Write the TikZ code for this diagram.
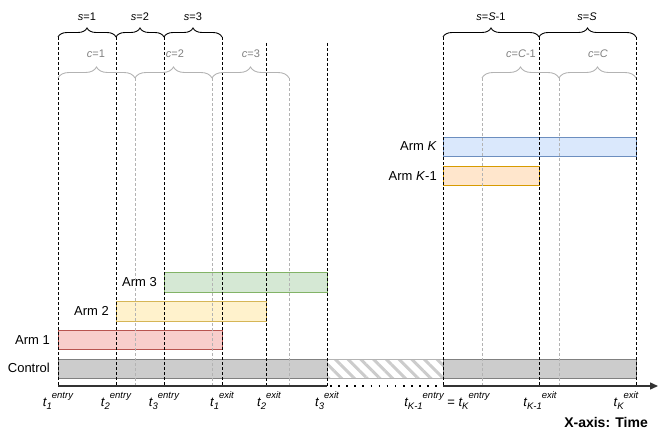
\documentclass[tikz,border=0pt]{standalone}
\usepackage{fontspec}
\setmainfont{Liberation Sans}
\usetikzlibrary{decorations.pathreplacing,patterns.meta,arrows.meta}

\definecolor{redfill}{HTML}{F8CECC}
\definecolor{redline}{HTML}{B85450}
\definecolor{yellowfill}{HTML}{FFF2CC}
\definecolor{yellowline}{HTML}{D6B656}
\definecolor{greenfill}{HTML}{D5E8D4}
\definecolor{greenline}{HTML}{82B366}
\definecolor{bluefill}{HTML}{DAE8FC}
\definecolor{blueline}{HTML}{6C8EBF}
\definecolor{orangefill}{HTML}{FFE6CC}
\definecolor{orangeline}{HTML}{D79B00}
\definecolor{ctlfill}{HTML}{CCCCCC}
\definecolor{ctlline}{HTML}{808080}
\definecolor{lightgray}{HTML}{B3B3B3}

\newcommand{\tlab}[2]{\textit{t\raisebox{-.45ex}{\fontsize{9.5}{10}\selectfont #1}\raisebox{1.1ex}{\fontsize{9.5}{10}\selectfont #2}}}

\begin{document}
\begin{tikzpicture}[x=1pt,y=-1pt,
    armlabel/.style={anchor=east,inner sep=0pt,font=\fontsize{13}{15}\selectfont},
    tlabel/.style={anchor=base,inner sep=0pt,font=\fontsize{13}{15}\selectfont},
    sbrace/.style={decorate,decoration={brace,amplitude=9pt},line width=.9pt},
    cbrace/.style={decorate,decoration={brace,amplitude=11pt},line width=.9pt,lightgray},
    slabel/.style={inner sep=0pt,font=\fontsize{11}{13}\selectfont},
    clabel/.style={inner sep=0pt,font=\fontsize{11}{13}\selectfont,gray},
    blackdash/.style={line width=.9pt,dash pattern=on 3pt off 2pt},
    graydash/.style={line width=.9pt,dash pattern=on 3pt off 2pt,lightgray}]
        \useasboundingbox (0,0) rectangle (664,444);

        %% bars
        \draw[ctlline,fill=ctlfill,line width=.9pt] (58,359) rectangle (327,378);
        \draw[lightgray,line width=.9pt,pattern={Lines[angle=-45,distance=9pt,line width=3pt]},pattern color=ctlfill] (327,359) rectangle (443,378);
        \draw[ctlline,fill=ctlfill,line width=.9pt] (443,359) rectangle (636,378);
        \draw[redline,fill=redfill,line width=.9pt] (58,330) rectangle (222,349);
        \draw[yellowline,fill=yellowfill,line width=.9pt] (116,301) rectangle (266,321);
        \draw[greenline,fill=greenfill,line width=.9pt] (164,272) rectangle (327,292);
        \draw[orangeline,fill=orangefill,line width=.9pt] (443,166) rectangle (539,185);
        \draw[blueline,fill=bluefill,line width=.9pt] (443,137) rectangle (636,156);

        %% arm names
        \node (ctl) at (50,368) [armlabel] {Control};
        \node (arm1) at (50,340) [armlabel] {Arm 1};
        \node (arm2) at (109,311) [armlabel] {Arm 2};
        \node (arm3) at (157,282) [armlabel] {Arm 3};
        \node (armKm) at (437,176) [armlabel] {Arm \textit{K}-1};
        \node (armK) at (437,146) [armlabel] {Arm \textit{K}};

        %% time lines
        \draw[graydash] (135,78) -- (135,386);
        \draw[graydash] (212,78) -- (212,386);
        \draw[graydash] (289,78) -- (289,386);
        \draw[graydash] (482,78) -- (482,386);
        \draw[graydash] (559,78) -- (559,386);
        \draw[blackdash] (58,37) -- (58,386);
        \draw[blackdash] (116,37) -- (116,386);
        \draw[blackdash] (164,37) -- (164,386);
        \draw[blackdash] (222,37) -- (222,386);
        \draw[blackdash] (266,43) -- (266,386);
        \draw[blackdash] (327,43) -- (327,386);
        \draw[blackdash] (443,37) -- (443,386);
        \draw[blackdash] (539,37) -- (539,386);
        \draw[blackdash] (636,37) -- (636,386);

        %% s braces
        \draw[sbrace] (58,37) -- (116,37);
        \draw[sbrace] (116,37) -- (164,37);
        \draw[sbrace] (164,37) -- (222,37);
        \draw[sbrace] (443,37) -- (539,37);
        \draw[sbrace] (539,37) -- (636,37);
        \node (s1) at (87,17) [slabel] {\textit{s}=1};
        \node (s2) at (140,17) [slabel] {\textit{s}=2};
        \node (s3) at (193,17) [slabel] {\textit{s}=3};
        \node (sSm) at (491,17) [slabel] {\textit{s}=\textit{S}-1};
        \node (sS) at (587,17) [slabel] {\textit{s}=\textit{S}};

        %% c braces
        \draw[cbrace] (58,78) -- (135,78);
        \draw[cbrace] (135,78) -- (212,78);
        \draw[cbrace] (212,78) -- (289,78);
        \draw[cbrace] (482,78) -- (559,78);
        \draw[cbrace] (559,78) -- (636,78);
        \node (c1) at (96,54) [clabel] {\textit{c}=1};
        \node (c2) at (175,54) [clabel] {\textit{c}=2};
        \node (c3) at (251,54) [clabel] {\textit{c}=3};
        \node (cCm) at (521,54) [clabel] {\textit{c}=\textit{C}-1};
        \node (cC) at (598,54) [clabel] {\textit{c}=\textit{C}};

        %% axis
        \draw[line width=1.4pt,black!80] (58,386) -- (327,386);
        \draw[line width=1.6pt,dash pattern=on 1.6pt off 6.5pt] (330,386) -- (443,386);
        \draw[line width=1.4pt,black!80,-{Triangle[length=8pt,width=7pt]}] (443,386) -- (658,386);

        %% t-values
        \node (t1in) at (58,406) [tlabel] {\tlab{1}{entry}};
        \node (t2in) at (116,406) [tlabel] {\tlab{2}{entry}};
        \node (t3in) at (164,406) [tlabel] {\tlab{3}{entry}};
        \node (t1out) at (222,406) [tlabel] {\tlab{1}{exit}};
        \node (t2out) at (269,406) [tlabel] {\tlab{2}{exit}};
        \node (t3out) at (327,406) [tlabel] {\tlab{3}{exit}};
        \node (tKin) at (447,406) [tlabel] {\tlab{K-1}{entry} = \tlab{K}{entry}};
        \node (tKmout) at (540,406) [tlabel] {\tlab{K-1}{exit}};
        \node (tKout) at (626,406) [tlabel] {\tlab{K}{exit}};

        \node (xaxis) at (648,427) [anchor=base east,inner sep=0pt,font=\fontsize{14}{16}\selectfont\bfseries] {X-axis: Time};
      \end{tikzpicture}
\end{document}
